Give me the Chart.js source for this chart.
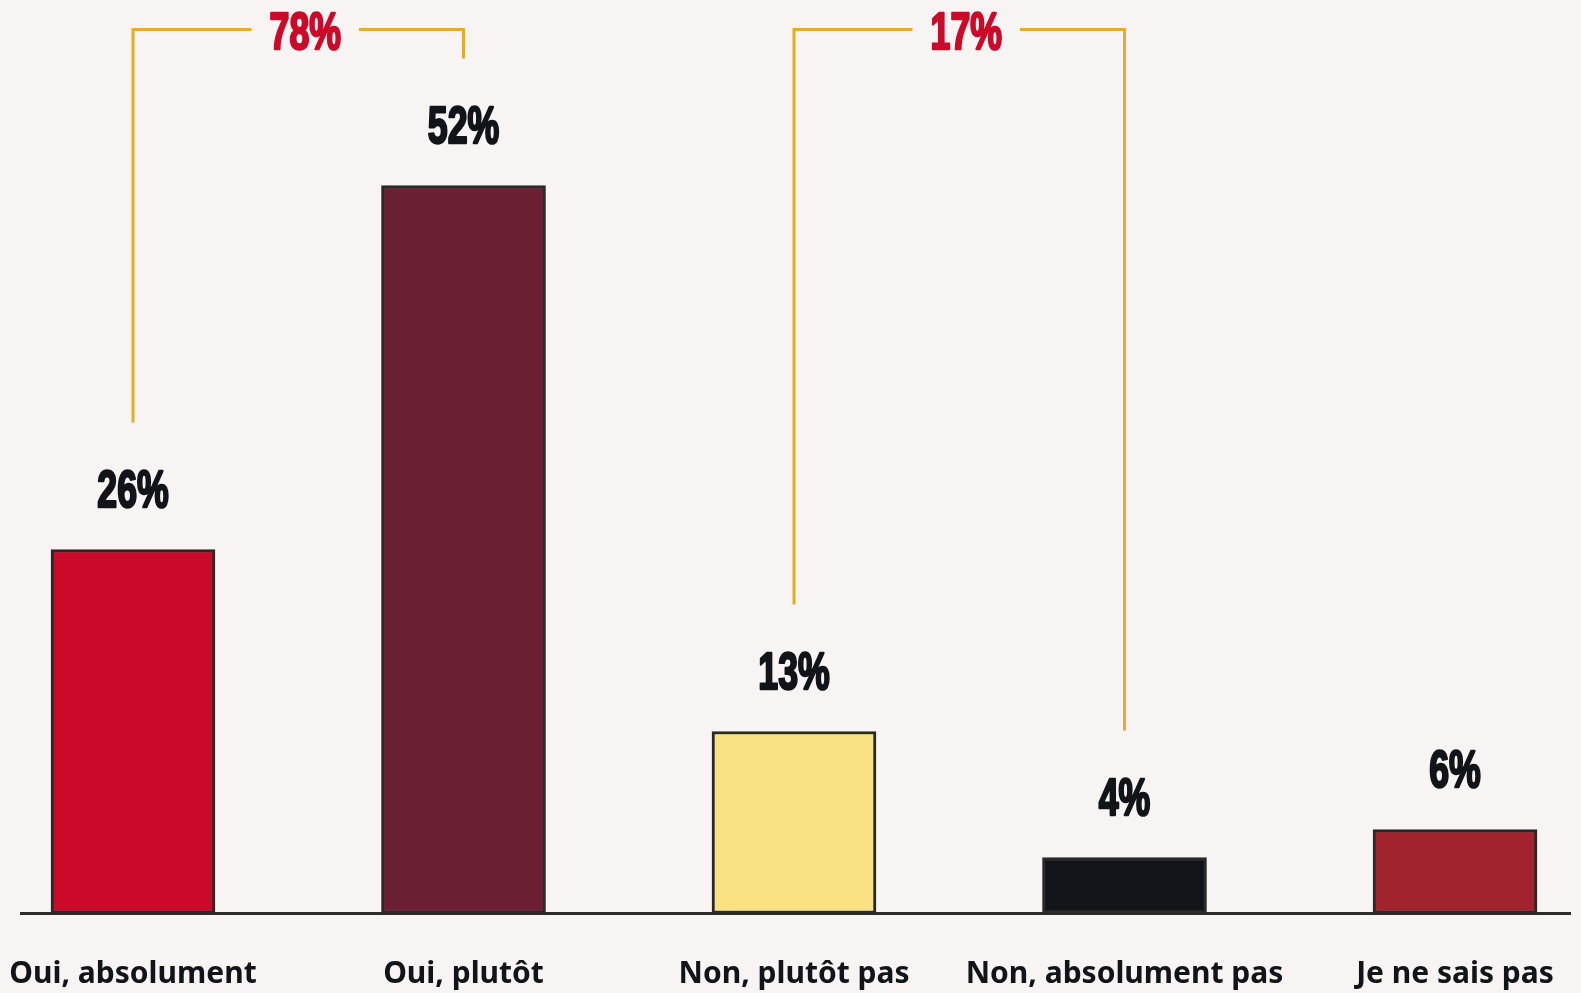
<!DOCTYPE html>
<html>
<head>
  <meta charset="utf-8">
  <title>Sondage</title>
  <script src="https://cdn.jsdelivr.net/npm/chart.js"></script>
  <style>
    html, body { margin: 0; padding: 0; background: #f8f4f3; }
    #wrap { width: 1581px; height: 993px; }
  </style>
</head>
<body>
  <div id="wrap"><canvas id="chart"></canvas></div>
  <script>
    const categories = ['Oui, absolument', 'Oui, plutôt', 'Non, plutôt pas', 'Non, absolument pas', 'Je ne sais pas'];
    const values = [26, 52, 13, 4, 6];
    const barColors = ['#cb0a29', '#6a1f33', '#f9e283', '#111418', '#a0232e'];
    // grouped totals shown above the brackets
    const bracketFrom = [0, 2];
    const bracketTo = [1, 3];
    const bracketTotals = [78, 17];

    const valueFont = 'bold 51px "Liberation Sans"';
    const squeeze = 0.7;

    function drawSqueezed(ctx, text, x, y, color) {
      ctx.save();
      ctx.font = valueFont;
      ctx.fillStyle = color;
      ctx.strokeStyle = color;
      ctx.lineWidth = 2.5;
      ctx.lineJoin = 'round';
      ctx.textAlign = 'center';
      ctx.textBaseline = 'alphabetic';
      ctx.translate(x, y);
      ctx.scale(squeeze, 1);
      ctx.strokeText(text, 0, 0);
      ctx.fillText(text, 0, 0);
      ctx.restore();
    }

    const baseline = {
      id: 'baseline',
      beforeDatasetsDraw(chart) {
        const ctx = chart.ctx;
        const y = chart.scales.y.getPixelForValue(0);
        ctx.save();
        ctx.strokeStyle = '#2e2b2b';
        ctx.lineWidth = 3;
        ctx.beginPath();
        ctx.moveTo(20, y);
        ctx.lineTo(1571, y);
        ctx.stroke();
        ctx.restore();
      }
    };

    const categoryLabels = {
      id: 'categoryLabels',
      afterDraw(chart) {
        const ctx = chart.ctx;
        const xs = chart.scales.x;
        ctx.save();
        ctx.font = 'bold 30px "Noto Sans"';
        ctx.fillStyle = '#111418';
        ctx.textAlign = 'center';
        ctx.textBaseline = 'alphabetic';
        categories.forEach((c, i) => {
          ctx.fillText(c, xs.getPixelForValue(i), 983);
        });
        ctx.restore();
      }
    };

    const valueLabels = {
      id: 'valueLabels',
      afterDatasetsDraw(chart) {
        const bars = chart.getDatasetMeta(0).data;
        bars.forEach((bar, i) => {
          drawSqueezed(chart.ctx, values[i] + '%', bar.x, bar.y - 43, '#111418');
        });
      }
    };

    const brackets = {
      id: 'brackets',
      afterDatasetsDraw(chart) {
        const ctx = chart.ctx;
        const xs = chart.scales.x, ys = chart.scales.y;
        const lineY = 29.5;
        bracketTotals.forEach((total, i) => {
          const a = bracketFrom[i], b = bracketTo[i];
          const x1 = xs.getPixelForValue(a), x2 = xs.getPixelForValue(b);
          const y1 = ys.getPixelForValue(values[a]) - 127;
          const y2 = ys.getPixelForValue(values[b]) - 127;
          const label = total + '%';
          ctx.save();
          ctx.font = valueFont;
          const w = ctx.measureText(label).width * squeeze;
          ctx.restore();
          const cx = (x1 + x2) / 2 + 7;
          const gap = 18;
          ctx.save();
          ctx.strokeStyle = '#e2ad28';
          ctx.lineWidth = 3;
          ctx.beginPath();
          ctx.moveTo(x1, y1);
          ctx.lineTo(x1, lineY);
          ctx.lineTo(cx - w / 2 - gap, lineY);
          ctx.moveTo(cx + w / 2 + gap, lineY);
          ctx.lineTo(x2, lineY);
          ctx.lineTo(x2, y2);
          ctx.stroke();
          ctx.restore();
          drawSqueezed(ctx, label, cx, lineY + 19, '#cb0a29');
        });
      }
    };

    new Chart(document.getElementById('chart'), {
      type: 'bar',
      data: {
        labels: categories,
        datasets: [{
          data: values,
          backgroundColor: barColors,
          borderColor: '#2a2828',
          borderWidth: 3,
          borderSkipped: false,
          barThickness: 164,
          clip: false
        }]
      },
      options: {
        responsive: true,
        maintainAspectRatio: false,
        animation: false,
        layout: { padding: { left: 133, right: 126, top: 3.5, bottom: 79.5 } },
        plugins: { legend: { display: false }, tooltip: { enabled: false } },
        scales: {
          x: { display: false, offset: false },
          y: { display: false, min: 0, max: 65 }
        }
      },
      plugins: [baseline, valueLabels, brackets, categoryLabels]
    });
  </script>
</body>
</html>
